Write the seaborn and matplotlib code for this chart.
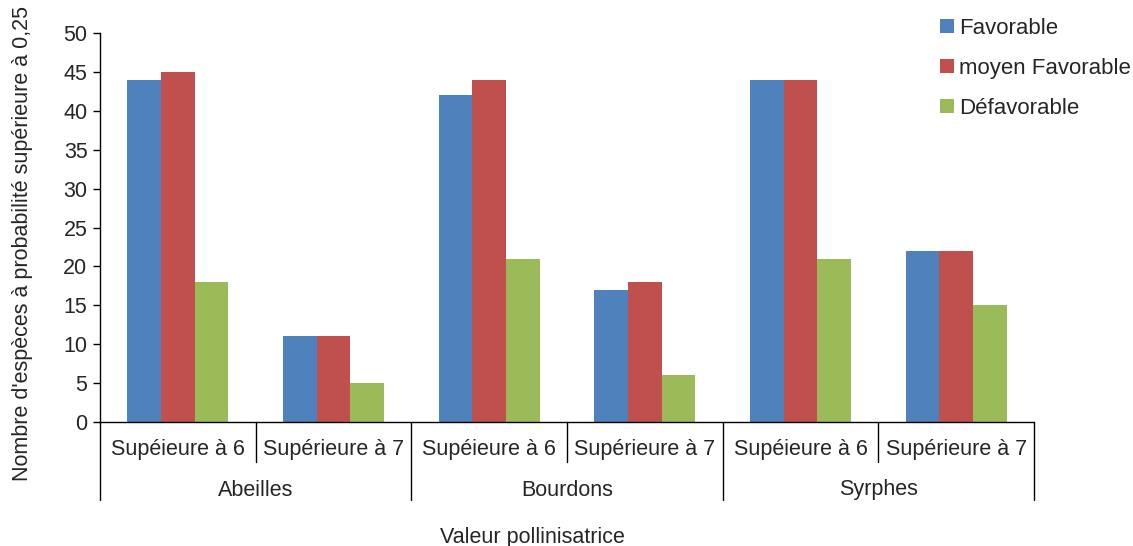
import numpy as np
import pandas as pd
import matplotlib
matplotlib.use("Agg")
import matplotlib.pyplot as plt
import seaborn as sns
from matplotlib.patches import Patch

groups = ["Abeilles", "Bourdons", "Syrphes"]
sub_labels = ["Supéieure à 6", "Supérieure à 7"]
series = ["Favorable", "moyen Favorable", "Défavorable"]
favorable = [44, 11, 42, 17, 44, 22]
moyen = [45, 11, 44, 18, 44, 22]
defavorable = [18, 5, 21, 6, 21, 15]
colors = ["#4F81BD", "#C0504D", "#9BBB59"]

keys = [g + "|" + s for g in groups for s in sub_labels]
rows = []
for name, vals in zip(series, [favorable, moyen, defavorable]):
    for k, v in zip(keys, vals):
        rows.append({"cat": k, "serie": name, "val": v})
df = pd.DataFrame(rows)

sns.set_style("white")
plt.rcParams["font.family"] = ["Liberation Sans", "DejaVu Sans"]
fs = 15.5

fig = plt.figure(figsize=(11.33, 5.46), dpi=100)
ax = fig.add_axes([100 / 1133, 124 / 546, 934 / 1133, 389 / 546])

sns.barplot(data=df, x="cat", y="val", hue="serie", order=keys, hue_order=series,
            palette=colors, width=0.65, gap=0, saturation=1, ax=ax, legend=False,
            edgecolor="none")

ax.set_xlim(-0.5, len(keys) - 0.5)
ax.set_ylim(0, 50)
ax.set_yticks(np.arange(0, 51, 5))
ax.tick_params(axis="y", direction="out", length=5, width=1, color="black",
               labelsize=fs, left=True, pad=4)
ax.set_xticks([])
ax.set_xlabel("")
ax.set_ylabel("")
for sp in ["top", "right"]:
    ax.spines[sp].set_visible(False)
for sp in ["left", "bottom"]:
    ax.spines[sp].set_color("black")
    ax.spines[sp].set_linewidth(1)

# separateurs des categories sous l'axe
trans = ax.get_xaxis_transform()
ax_h = 389.0
small = -40 / ax_h
big = -78 / ax_h
for i in range(len(keys) + 1):
    x = i - 0.5
    y1 = big if i % 2 == 0 else small
    ax.plot([x, x], [0, y1], color="black", lw=1, transform=trans, clip_on=False)

for i, k in enumerate(keys):
    ax.text(i, -27 / ax_h, k.split("|")[1], transform=trans, ha="center", va="center",
            fontsize=fs)
for j, g in enumerate(groups):
    ax.text(2 * j + 0.5, -68 / ax_h, g, transform=trans, ha="center", va="center",
            fontsize=fs)

fig.text(532 / 1133, 1 - 537 / 546, "Valeur pollinisatrice", ha="center", va="center",
         fontsize=fs)
fig.text(23 / 1133, 1 - 481 / 546, "Nombre d'espèces à probabilité supérieure à 0,25",
         ha="center", va="bottom", rotation=90, fontsize=fs)

handles = [Patch(facecolor=c, edgecolor="none") for c in colors]
fig.legend(handles, series, loc="upper left", bbox_to_anchor=(920 / 1133, 1 + 2 / 546),
           frameon=False, fontsize=16, handlelength=0.62, handleheight=0.62,
           handletextpad=0.25, labelspacing=0.85)

fig.savefig("out.png", dpi=100)
